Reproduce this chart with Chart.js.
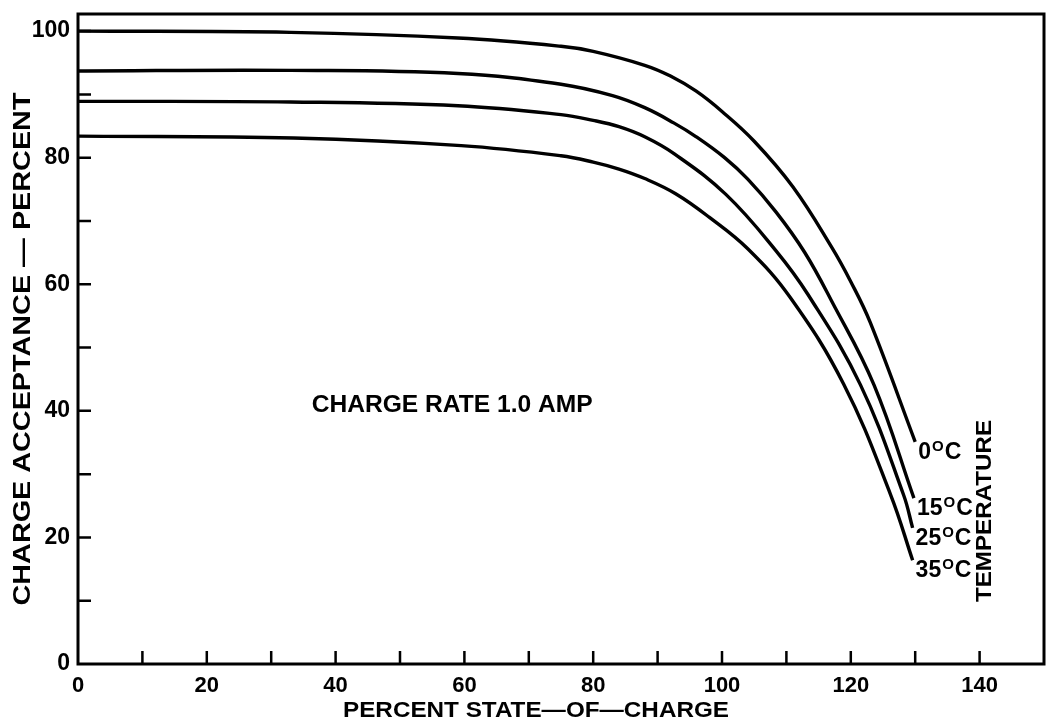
<!DOCTYPE html>
<html><head><meta charset="utf-8">
<script src="https://cdn.jsdelivr.net/npm/chart.js@4"></script>
<style>html,body{margin:0;padding:0;background:#fff}#wrap{width:1052px;height:728px}</style>
</head><body><div id="wrap"><canvas id="c" width="1052" height="728"></canvas></div>
<script>
// ---- data ----
const xTickLabels = [0, 20, 40, 60, 80, 100, 120, 140];
const yTickLabels = [0, 20, 40, 60, 80, 100];
const tempLabels = ['0', '15', '25', '35'];

const soc0  = [0, 33, 59, 75, 80, 88, 92, 96, 100, 105, 111, 117, 120, 123, 130];
const acc0  = [100, 99.8, 98.9, 97.6, 96.8, 94.6, 92.9, 90.5, 87.3, 82.6, 75.4, 65.9, 60.4, 54.0, 35.1];

const soc15 = [0, 33, 59, 75, 83, 88, 92.5, 96, 100.4, 104, 108.4, 112.8, 117, 123.6, 129.8];
const acc15 = [93.7, 93.8, 93.3, 91.6, 89.8, 87.9, 85.5, 83.3, 80.0, 76.6, 71.4, 65.1, 57.4, 44.1, 26.2];

const soc25 = [0, 33, 59, 75, 80, 84, 88, 92.6, 100.6, 108.3, 113.4, 121.5, 128.2, 129.6];
const acc25 = [88.9, 88.8, 88.2, 86.8, 85.9, 84.9, 83.3, 80.6, 74.2, 65.4, 58.3, 44.1, 26.7, 21.5];

const soc35 = [0, 33.5, 59.5, 75, 80, 84, 88, 92.8, 98, 104, 110.6, 118.9, 126.2, 129.6];
const acc35 = [83.4, 83.1, 81.9, 80.3, 79.3, 78.2, 76.7, 74.3, 70.6, 65.6, 57.9, 44.2, 26.7, 16.4];

const seriesX = [soc0, soc15, soc25, soc35];
const seriesY = [acc0, acc15, acc25, acc35];

const FONT = '"Liberation Sans", Arial, sans-serif';

function pts(xs, ys) { return xs.map((x, i) => ({x: x, y: ys[i]})); }

const datasets = seriesX.map((xs, i) => ({
  label: tempLabels[i] + '°C',
  data: pts(xs, seriesY[i]),
  borderColor: '#000',
  borderWidth: 3.4,
  pointRadius: 0,
  fill: false,
  tension: 0.4
}));

function fitText(ctx, text, cx, cy, targetW, size, weight, rot) {
  ctx.save();
  ctx.font = weight + ' ' + size + 'px ' + FONT;
  const w = ctx.measureText(text).width;
  ctx.translate(cx, cy);
  ctx.rotate(rot || 0);
  ctx.scale(targetW / w, 1);
  ctx.textAlign = 'center';
  ctx.textBaseline = 'middle';
  ctx.fillStyle = '#000';
  ctx.fillText(text, 0, 0);
  ctx.restore();
}

const decor = {
  id: 'decor',
  afterDatasetsDraw(chart) {
    const ctx = chart.ctx, ca = chart.chartArea;
    const xs = chart.scales.x, ys = chart.scales.y;
    ctx.save();
    ctx.strokeStyle = '#000';
    ctx.lineWidth = 3;
    ctx.strokeRect(ca.left, ca.top, ca.right - ca.left, ca.bottom - ca.top);
    // inward tick marks
    ctx.lineWidth = 2.5;
    ctx.beginPath();
    for (let v = 10; v <= 140; v += 10) {
      const p = xs.getPixelForValue(v);
      ctx.moveTo(p, ca.bottom); ctx.lineTo(p, ca.bottom - 13);
    }
    for (let v = 10; v <= 100; v += 10) {
      const p = ys.getPixelForValue(v);
      ctx.moveTo(ca.left, p); ctx.lineTo(ca.left + 13, p);
    }
    ctx.stroke();

    // temperature labels at curve ends
    ctx.fillStyle = '#000';
    ctx.textBaseline = 'alphabetic';
    ctx.textAlign = 'left';
    seriesX.forEach((sx, i) => {
      const lx = xs.getPixelForValue(sx[sx.length - 1]) + 3;
      const ly = ys.getPixelForValue(seriesY[i][seriesY[i].length - 1]) + 17;
      ctx.font = 'bold 23px ' + FONT;
      ctx.fillText(tempLabels[i], lx, ly);
      let x = lx + ctx.measureText(tempLabels[i]).width + 1;
      ctx.font = 'bold 15px ' + FONT;
      ctx.fillText('O', x, ly - 8);
      x += ctx.measureText('O').width + 1;
      ctx.font = 'bold 23px ' + FONT;
      ctx.fillText('C', x, ly);
    });

    // annotation
    fitText(ctx, 'CHARGE RATE 1.0 AMP', xs.getPixelForValue(58.1), ys.getPixelForValue(40.8), 281, 23, 'bold', 0);
    // TEMPERATURE
    fitText(ctx, 'TEMPERATURE', 985, 511, 182, 22, 'bold', -Math.PI / 2);
    // axis titles
    fitText(ctx, 'CHARGE ACCEPTANCE — PERCENT', 23, 349, 513, 24, 'bold', -Math.PI / 2);
    fitText(ctx, 'PERCENT STATE—OF—CHARGE', 536, 711, 386, 22, 'bold', 0);
    ctx.restore();
  }
};

new Chart(document.getElementById('c'), {
  type: 'line',
  data: { datasets: datasets },
  options: {
    responsive: false,
    animation: false,
    devicePixelRatio: 1,
    layout: { padding: { left: 0, top: 14, right: 8, bottom: 0 } },
    plugins: { legend: { display: false }, tooltip: { enabled: false } },
    scales: {
      x: {
        type: 'linear', min: 0, max: 150,
        grid: { display: false, drawTicks: false },
        border: { display: false },
        afterFit: s => { s.height = 64; s.paddingLeft = 0; s.paddingRight = 0; },
        afterBuildTicks: s => { s.ticks = xTickLabels.map(v => ({value: v})); },
        ticks: { padding: 9, color: '#000', font: { family: FONT, weight: 'bold', size: 22 }, maxRotation: 0, autoSkip: false }
      },
      y: {
        type: 'linear', min: 0, max: 102.7,
        grid: { display: false, drawTicks: false },
        border: { display: false },
        afterFit: s => { s.width = 78; s.paddingTop = 0; s.paddingBottom = 0; },
        afterBuildTicks: s => { s.ticks = yTickLabels.map(v => ({value: v})); },
        ticks: { padding: 8, color: '#000', font: { family: FONT, weight: 'bold', size: 23 }, autoSkip: false }
      }
    }
  },
  plugins: [decor]
});
</script>
</body></html>
